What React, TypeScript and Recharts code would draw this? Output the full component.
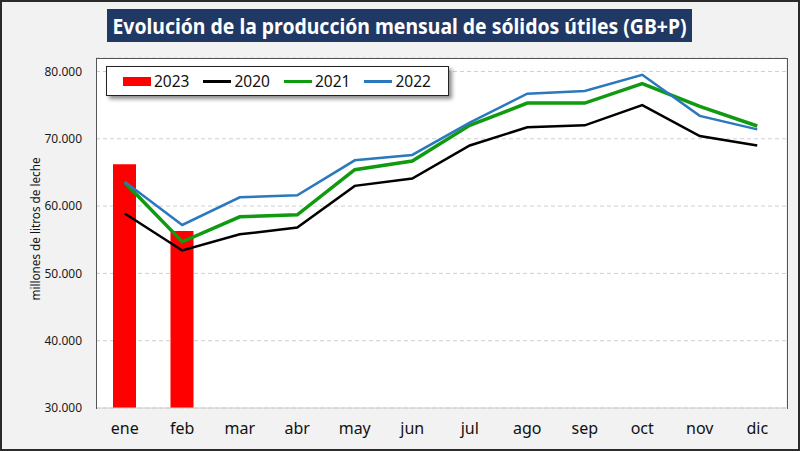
import React from 'react'
import {
  ComposedChart, Bar, Line, XAxis, YAxis, CartesianGrid,
} from 'recharts'

// monthly production, thousand-litre units
const MONTHS = ['ene', 'feb', 'mar', 'abr', 'may', 'jun', 'jul', 'ago', 'sep', 'oct', 'nov', 'dic']
const Y2023 = [66200, 56300]
const Y2020 = [58900, 53400, 55800, 56800, 63000, 64100, 69000, 71700, 72000, 75000, 70400, 69000]
const Y2021 = [63500, 54700, 58400, 58700, 65400, 66700, 72000, 75300, 75300, 78200, 74800, 71900]
const Y2022 = [63600, 57200, 61300, 61600, 66800, 67600, 72400, 76700, 77100, 79500, 73400, 71400]
const Y_TICKS = [30000, 40000, 50000, 60000, 70000, 80000]

const LINES = [
  { key: 'y2020', name: '2020', color: '#000000', width: 2.5 },
  { key: 'y2021', name: '2021', color: '#109a10', width: 3.5 },
  { key: 'y2022', name: '2022', color: '#2a78bd', width: 2.5 },
]

const FONT = '"Noto Sans", sans-serif'

const data = MONTHS.map((m, i) => ({
  month: m,
  y2023: Y2023[i],
  y2020: Y2020[i],
  y2021: Y2021[i],
  y2022: Y2022[i],
}))

const fmt = (v: number) => `${Math.floor(v / 1000)}.${String(v % 1000).padStart(3, '0')}`

function AxisTitle({ viewBox }: { viewBox?: { x: number; y: number; width: number; height: number } }) {
  if (!viewBox) return null
  const cx = 35
  const cy = viewBox.y + viewBox.height / 2 - 4
  return (
    <text
      x={cx}
      y={cy}
      transform={`rotate(-90, ${cx}, ${cy})`}
      textAnchor="middle"
      dominantBaseline="central"
      fontSize={12.5}
      fontFamily={FONT}
      fill="#111"
      textLength={143}
      lengthAdjust="spacingAndGlyphs"
    >
      millones de litros de leche
    </text>
  )
}

function LegendBox() {
  const items = [{ name: '2023', color: '#ff0000', bar: true }, ...LINES.map((l) => ({ name: l.name, color: l.color, bar: false }))]
  return (
    <div
      style={{
        position: 'absolute', left: 104, top: 64, width: 343, height: 30, boxSizing: 'border-box',
        background: '#fff', border: '1.5px solid #222', boxShadow: '3px 3px 4px rgba(0,0,0,0.45)',
        display: 'flex', alignItems: 'center', paddingLeft: 16, gap: 14,
        fontFamily: FONT, fontSize: 15.5, color: '#111',
      }}
    >
      {items.map((it) => (
        <div key={it.name} style={{ display: 'flex', alignItems: 'center' }}>
          <span
            style={{
              display: 'inline-block', width: 28, height: it.bar ? 9 : 3,
              background: it.color, marginRight: 3,
            }}
          />
          <span>{it.name}</span>
        </div>
      ))}
    </div>
  )
}

export default function App() {
  return (
    <div
      style={{
        position: 'absolute', left: 0, top: 0, width: 800, height: 451, boxSizing: 'border-box',
        background: '#f2f2f2', border: '2px solid #2b2b2b', overflow: 'hidden',
      }}
    >
      <div style={{ position: 'absolute', left: -2, top: -2 }}>
        <ComposedChart
          width={800}
          height={451}
          data={data}
          margin={{ top: 58, right: 14, bottom: 0, left: 36 }}
          barSize={23}
        >
          <CartesianGrid
            vertical={false}
            stroke="#cfcfcf"
            strokeDasharray="4 3"
            fill="#ffffff"
          />
          <XAxis
            dataKey="month"
            height={43}
            tickLine={false}
            axisLine={{ stroke: '#cccccc' }}
            tick={{ fontSize: 16, fontFamily: FONT, fill: '#111' }}
            tickMargin={9}
          />
          <YAxis
            width={60}
            domain={[30000, 82000]}
            ticks={Y_TICKS}
            allowDataOverflow
            tickFormatter={fmt}
            tickLine={false}
            axisLine={false}
            tick={{ fontSize: 12, fontFamily: FONT, fill: '#1a1a1a' }}
            tickMargin={8}
            label={<AxisTitle />}
          />
          <Bar dataKey="y2023" name="2023" fill="#ff0000" isAnimationActive={false} />
          {LINES.map((l) => (
            <Line
              key={l.key}
              dataKey={l.key}
              name={l.name}
              stroke={l.color}
              strokeWidth={l.width}
              dot={false}
              activeDot={false}
              type="linear"
              isAnimationActive={false}
            />
          ))}
        </ComposedChart>
      </div>

      {/* plot frame */}
      <div
        style={{
          position: 'absolute', left: 94, top: 56, width: 692, height: 351, boxSizing: 'border-box',
          borderTop: '1.5px solid #555', borderLeft: '1.5px solid #555', borderRight: '1.5px solid #555',
          pointerEvents: 'none',
        }}
      />

      <LegendBox />

      <svg style={{ position: 'absolute', left: -2, top: -2 }} width={800} height={50}>
        <rect x={107} y={9} width={585} height={33} fill="#203864" />
        <text
          x={399.5}
          y={33.5}
          textAnchor="middle"
          fontFamily={FONT}
          fontWeight="bold"
          fontSize={21.5}
          fill="#ffffff"
          textLength={574}
          lengthAdjust="spacingAndGlyphs"
        >
          Evolución de la producción mensual de sólidos útiles (GB+P)
        </text>
      </svg>
    </div>
  )
}
